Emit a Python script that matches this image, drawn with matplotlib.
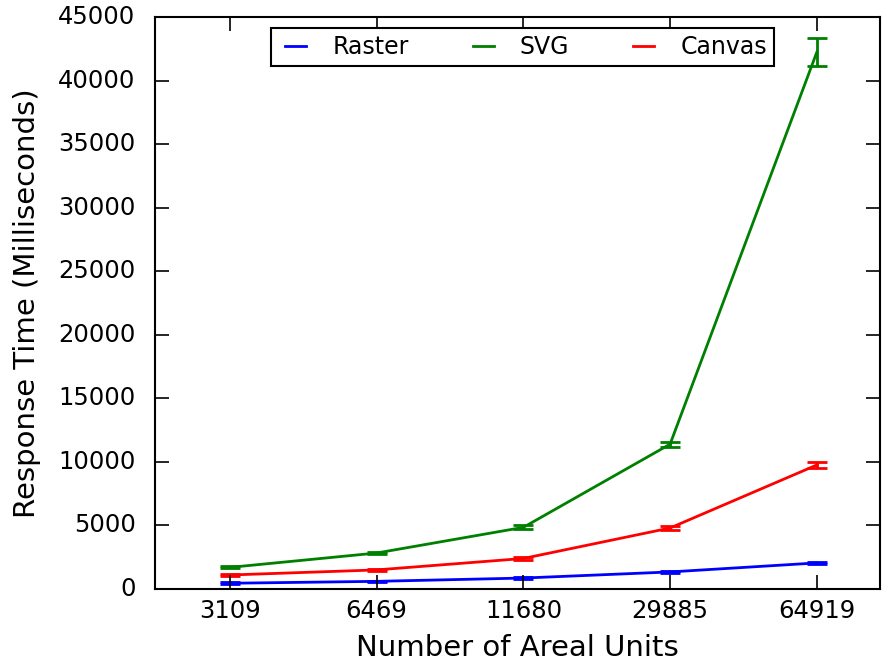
import numpy as np
import matplotlib
matplotlib.use("Agg")
import matplotlib.pyplot as plt

plt.style.use("classic")

# ── Data ──────────────────────────────────────────────────────────────────────
areal_units = ["3109", "6469", "11680", "29885", "64919"]

raster_ms = [450, 600, 860, 1340, 2050]
svg_ms    = [1700, 2830, 4850, 11400, 42250]
canvas_ms = [1100, 1500, 2400, 4800, 9760]

raster_err = [60, 60, 60, 80, 100]
svg_err    = [80, 100, 150, 200, 1100]
canvas_err = [80, 80, 100, 150, 200]

# ── Plot ──────────────────────────────────────────────────────────────────────
fig = plt.figure(figsize=(8.83, 6.64), dpi=100, facecolor="white")
ax = fig.add_axes([0.1755, 0.113, 0.821, 0.861])

x = np.arange(len(areal_units))
series = [("Raster", raster_ms, raster_err, "b"),
          ("SVG", svg_ms, svg_err, "g"),
          ("Canvas", canvas_ms, canvas_err, "r")]

handles = []
for label, vals, errs, col in series:
    cont = ax.errorbar(x, vals, yerr=errs, color=col, linewidth=2.0,
                       elinewidth=2.0, capsize=7, capthick=2.0, label=label)
    handles.append(cont.lines[0])

ax.set_xlim(-0.511, 4.43)
ax.set_ylim(0, 45000)
ax.set_xticks(x)
ax.set_xticklabels(areal_units)
ax.set_yticks(np.arange(0, 45001, 5000))

ax.tick_params(axis="both", which="major", labelsize=17.5, length=10,
               width=1.2, direction="in")
ax.tick_params(axis="x", pad=7)
ax.tick_params(axis="y", pad=14)
for sp in ax.spines.values():
    sp.set_linewidth(1.5)

ax.set_xlabel("Number of Areal Units", fontsize=21, labelpad=8)
ax.set_ylabel("Response Time (Milliseconds)", fontsize=21, labelpad=12)

leg = ax.legend(handles, [s[0] for s in series], loc="upper center", ncol=3,
                fontsize=17, frameon=True, fancybox=False, handlelength=1.5,
                columnspacing=2.4, borderaxespad=0.45, borderpad=0.3,
                bbox_to_anchor=(0.507, 1.0))
leg.get_frame().set_edgecolor("black")
leg.get_frame().set_linewidth(1.5)

fig.savefig("out.png", dpi=100, facecolor="white")
